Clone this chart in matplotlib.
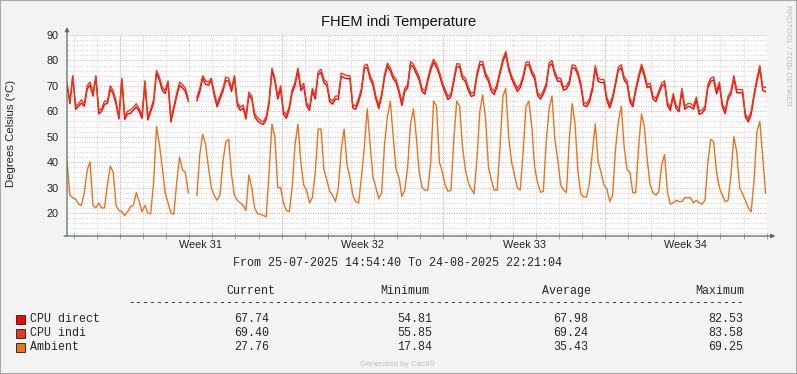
import numpy as np
import matplotlib.pyplot as plt
from matplotlib.patches import Rectangle

plt.rcParams['font.family'] = ['Liberation Sans', 'DejaVu Sans']

nan = np.nan

# rrd samples, one every 3 h starting 25-07-2025 14:54:40
step_h = 3
span_h = 727.44          # up to 24-08-2025 22:21:04
first_day_h = 7.089      # first day boundary after the start
first_week_h = 55.089    # first week boundary after the start

cpu_direct = [
    70, 63, 73.5, 60.8, 62, 63.2, 62, 68.8, 70.3, 66, 73.4, 59, 60, 62.8, 63, 68.6, 66.9, 62.8, 57, 72.4,
    56.8, 58.9, 59.2, 60.4, 61.7, 60, 57.2, 71.2, 56.6, 59.8, 63.2, 75, 72.3, 68.2, 67, 71.3, 55.8, 60.8, 65.9, 70.2,
    69.2, 67.8, 64, nan, nan, 64.2, 67.6, 73, 70.7, 70.3, 72.2, 66.2, 61.8, 64.8, 67.8, 72.2, 71.8, 67.8, 73.3, 62.4,
    60.4, 61.3, 57, 66.3, 64.8, 57.8, 56.3, 55.4, 54.8, 56.8, 62.8, 76, 71.8, 64.8, 69, 58.8, 57.3, 60.8, 67.3, 70.2, 75.8,
    68.2, 69.8, 62.3, 60.3, 67.8, 64.8, 74.5, 75.3, 71.2, 70.2, 63.8, 62.8, 64.8, 64.7, 73.8, 73.2, 72.8, 72.9, 61.3, 60.8,
    63.8, 67.7, 76.8, 77.3, 72.8, 70.2, 64.8, 61.1, 65.8, 73.3, 77.8, 75.8, 72.8, 71.3, 67.3, 62.3, 67.8, 69.3, 78.3, 77.3, 74.8,
    72.3, 67.8, 66.8, 71.8, 76.3, 79.3, 77.3, 74.3, 70.3, 67.3, 64.6, 65.8, 71.6, 77.5, 77.4, 72.8, 71.8, 68.3, 65.8, 66.3,
    73.8, 78.3, 78.3, 73.8, 71.8, 67.8, 66.6, 69.8, 74.8, 79.5, 82.5, 76.3, 72.8, 70.3, 67.8, 69.3, 72.8, 78.1, 78.3, 74.8, 72.8,
    66.3, 64.8, 66.8, 69.8, 77.8, 78.8, 74.3, 71.8, 71.8, 68.3, 68.8, 70.8, 77.1, 76.8, 74.2, 69.8, 62.3, 61.8, 63.8, 68.3,
    76.8, 71.8, 71.3, 71.3, 64.3, 61.3, 64.8, 70.3, 76.2, 77.1, 72.3, 70.8, 63.8, 61.8, 67.8, 72.8, 77.3, 73.8, 69.3, 69.8, 64.8,
    63.8, 66.8, 69.8, 70.8, 62.3, 60.3, 65.8, 61.1, 59.8, 67.8, 60.8, 61.8, 61.8, 60.8, 64.4, 58.8, 59.3, 60.8, 69.3, 71.8,
    72.3, 66.8, 70.3, 61.8, 59.1, 64.8, 66.8, 72.8, 67.3, 67.3, 67.3, 57.8, 55.8, 58.8, 65.8, 71.8, 76.8, 68.3, 67.7,
]
cpu_indi = [
    71, 64, 74, 62, 63, 64.5, 63, 70, 71.5, 67, 74, 60.3, 61, 64, 64, 70, 68, 64, 58, 73,
    58, 60, 60.5, 61.5, 63, 61, 58.4, 72, 57.7, 61, 64.5, 76, 73.5, 69.5, 68, 72, 57, 62, 67, 71.5,
    70.5, 69, 65, nan, nan, 65.5, 69, 74, 72, 71.5, 73, 67.5, 63, 66, 69, 73.4, 73, 69, 74, 63.6,
    61.6, 62.5, 58, 67.5, 66, 59, 57.5, 56.5, 55.8, 58, 64, 77, 73, 66, 70, 60, 58.5, 62, 68.5, 71.5, 77,
    69.5, 71, 63.5, 61.5, 69, 66, 75.5, 76.5, 72.5, 71.5, 65, 64, 66, 66, 75, 74.5, 74, 74, 62.5, 62,
    65, 69, 78, 78.5, 74, 71.5, 66, 62.3, 67, 74.5, 79, 77, 74, 72.5, 68.5, 63.5, 69, 70.5, 79.5, 78.5, 76,
    73.5, 69, 68, 73, 77.5, 80.5, 78.5, 75.5, 71.5, 68.5, 65.8, 67, 72.8, 78.7, 78.6, 74, 73, 69.5, 67, 67.5,
    75, 79.5, 79.5, 75, 73, 69, 67.8, 71, 76, 80.7, 83.5, 77.5, 74, 71.5, 69, 70.5, 74, 79.3, 79.5, 76, 74,
    67.5, 66, 68, 71, 79, 80, 75.5, 73, 73, 69.5, 70, 72, 78.3, 78, 75.4, 71, 63.5, 63, 65, 69.5,
    78, 73, 72.5, 72.5, 65.5, 62.5, 66, 71.5, 77.4, 78.3, 73.5, 72, 65, 63, 69, 74, 78.5, 75, 70.5, 71, 66,
    65, 68, 71, 72, 63.5, 61.5, 67, 62.3, 61, 69, 62, 63, 63, 62, 65.6, 60, 60.5, 62, 70.5, 73,
    73.5, 68, 71.5, 63, 60.3, 66, 68, 74, 68.5, 68.5, 68.5, 59, 57, 60, 67, 73, 78, 69.5, 69.4,
]
ambient = [
    40, 27, 26, 25.5, 23.5, 23, 28, 37, 40, 23, 22, 24, 22, 22, 31, 38.5, 36, 23, 21, 20.5,
    19, 20.5, 22.5, 23, 28, 24.5, 20.5, 23, 20, 19.7, 32, 54, 47, 38, 28, 24, 20, 19.5, 32, 42,
    37, 36, 28, nan, nan, 27, 43, 51, 47, 38, 30, 27, 25, 27, 40, 48, 49, 35, 27, 25,
    24, 23, 21, 35, 30, 22, 19.7, 19.5, 19, 18.5, 36, 55, 50, 30, 30, 24, 21, 20.5, 30, 47, 55,
    40, 31, 29, 24, 26, 36, 53, 53, 37, 33, 28.5, 27, 24.5, 30, 45, 53, 39, 34, 27, 24.5,
    24, 34, 46, 61, 47, 34, 30, 25.6, 28, 47, 58, 64, 50, 37, 34, 26.5, 29, 38, 55, 61, 50,
    36, 30, 29, 29, 40, 64, 62, 40, 36, 31, 28.5, 29, 49, 64, 62, 46, 37, 32, 29.5, 27.6,
    41, 60, 66.5, 57, 38, 33, 29, 29, 46, 66, 69, 50, 40, 35, 30, 29, 44, 62, 64, 54, 38,
    32, 28.2, 28.5, 48, 61, 66, 49, 41, 31, 29, 28, 49, 63, 55, 36, 27.5, 26.3, 26.3, 32, 44,
    55, 40, 36, 31, 29.5, 24.5, 27, 45, 56, 62, 46, 37, 36, 28, 28, 46, 59, 54, 41, 31, 28,
    27, 28.5, 39, 43, 28, 23.5, 24, 25, 24.5, 24.5, 26, 26, 26, 24, 25, 24, 23.5, 25, 40, 49,
    48, 36, 30, 27, 24.5, 25, 35, 50, 44, 30, 27.5, 25, 22, 20.5, 33, 52, 56, 42, 27.8,
]

series = [cpu_direct, cpu_indi, ambient]
series_names = ["CPU direct", "CPU indi", "Ambient"]
series_colors = ["#FF0000", "#E8391C", "#E8741E"]
col_current = ["67.74", "69.40", "27.76"]
col_minimum = ["54.81", "55.85", "17.84"]
col_average = ["67.98", "69.24", "35.43"]
col_maximum = ["82.53", "83.58", "69.25"]
week_labels = ["Week 31", "Week 32", "Week 33", "Week 34"]

W, H = 797, 374
fx = lambda px: px / W
fy = lambda py: 1 - py / H

fig = plt.figure(figsize=(W / 100, H / 100), dpi=100, facecolor="#F3F3F3")
ax = fig.add_axes([fx(67), fy(236), 700 / W, 201 / H])
ax.set_facecolor("#FDFDFD")

hours = np.arange(len(ambient)) * step_h
for vals, col in zip(series, series_colors):
    ax.plot(hours, vals, color=col, lw=1.0, zorder=3)

ax.set_xlim(0, span_h)
ax.set_ylim(10.96, 90)

# --- grid ---
minor_c, major_c = "#D2D2D2", "#ECA0A0"
dot = (0, (1, 1.5))
for v in range(12, 90, 2):
    if v % 10:
        ax.axhline(v, color=minor_c, lw=0.7, ls=dot, zorder=1)
for v in range(20, 91, 10):
    ax.axhline(v, color=major_c, lw=0.7, ls=dot, zorder=1.5, clip_on=False)
days = np.arange(first_day_h, span_h, 24)
weeks = np.arange(first_week_h, span_h, 168)
for d in days:
    ax.axvline(d, color=minor_c, lw=0.7, ls=dot, zorder=1)
for w in weeks:
    ax.axvline(w, color=major_c, lw=0.7, ls=dot, zorder=1.5)

# --- axes, ticks ---
for s in ax.spines.values():
    s.set_visible(False)
axis_c = "#56705F"
arrow = dict(arrowstyle="-|>", color=axis_c, lw=0.9, mutation_scale=6,
             shrinkA=0, shrinkB=0)
ax.annotate("", xy=(0, 1.04), xytext=(0, 0), xycoords="axes fraction",
            arrowprops=arrow, zorder=5)
ax.annotate("", xy=(1.012, 0), xytext=(-0.004, 0), xycoords="axes fraction",
            arrowprops=arrow, zorder=5)

ax.set_yticks(range(20, 91, 10))
ax.tick_params(axis="y", length=0, pad=6, labelsize=7.8, labelcolor="#222222")
ax.set_xticks(weeks[:len(week_labels)] + 84)
ax.set_xticklabels(week_labels)
ax.set_xticks(days, minor=True)
ax.tick_params(axis="x", which="major", length=0, pad=3, labelsize=7.8,
               labelcolor="#222222")
ax.tick_params(axis="x", which="minor", length=4, direction="inout",
               color="#A8A8A8", width=0.7)

# --- texts ---
fig.text(0.5, fy(22), "FHEM indi Temperature", ha="center", va="center",
         fontsize=10.5, color="#111111")
fig.text(fx(11), fy(133), "Degrees Celsius (°C)", rotation=90, ha="center",
         va="center", fontsize=8.2, color="#222222")
fig.text(fx(788), fy(5), "RRDTOOL / TOBI OETIKER", rotation=270, ha="center",
         va="top", fontsize=5.8, color="#BDBDBD")
fig.text(fx(398), fy(364), "Generated by Cacti®", ha="center", va="center",
         fontsize=5.8, color="#BDBDBD")

mono = dict(family="Liberation Mono", fontsize=8.4, color="#262626", va="center")
fig.text(fx(397.5), fy(263), "From 25-07-2025 14:54:40 To 24-08-2025 22:21:04",
         ha="center", **mono)
for label, left in zip(["Current", "Minimum", "Average", "Maximum"],
                       [226, 380, 541.5, 695]):
    fig.text(fx(left), fy(291), label, ha="left", **mono)
fig.text(fx(128), fy(303.5), "-" * 88, ha="left", **mono)

rows_y = [319, 333, 347]
for i, y in enumerate(rows_y):
    fig.patches.append(Rectangle((fx(15.5), fy(y + 4.5)), 9 / W, 9 / H,
                                 transform=fig.transFigure,
                                 facecolor=series_colors[i],
                                 edgecolor="#303030", lw=0.7))
    fig.text(fx(30), fy(y), series_names[i], ha="left", **mono)
    for col, right in zip([col_current, col_minimum, col_average, col_maximum],
                          [269.5, 432, 588.5, 743]):
        fig.text(fx(right), fy(y), col[i], ha="right", **mono)

fig.patches.append(Rectangle((0, 0), 1, 1, transform=fig.transFigure,
                             fill=False, edgecolor="#A8A8A8", lw=1.5))

fig.savefig("out.png", dpi=100, facecolor=fig.get_facecolor())
